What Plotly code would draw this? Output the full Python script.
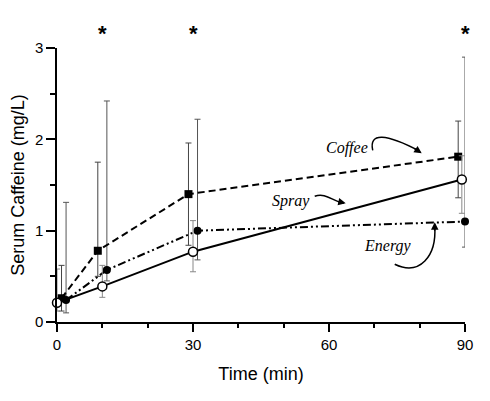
import plotly.graph_objects as go

# ==== Data ====
coffee_t = [1, 9, 29, 88.5]
coffee_mean = [0.26, 0.78, 1.40, 1.81]
coffee_hi = [0.62, 1.75, 1.96, 2.20]
coffee_lo = [0.12, 0.50, 0.84, 1.36]

spray_t = [0, 10, 30, 89.3]
spray_mean = [0.21, 0.39, 0.77, 1.56]
spray_hi = [0.58, 0.62, 1.11, 1.82]
spray_lo = [0.12, 0.27, 0.55, 1.19]

energy_t = [2, 11, 31, 90]
energy_mean = [0.24, 0.57, 1.00, 1.10]
energy_hi = [1.31, 2.42, 2.22, 2.90]
energy_lo = [0.10, 0.45, 0.68, 0.82]

star_times = [10, 30, 90]


# pixel -> data helpers for the hand-drawn arrows (reference image pixels)
def px_x(p):
    return (p - 57.3) / 4.533


def px_y(p):
    return (321.7 - p) / 91.33


def err(mean, hi, lo, color):
    return dict(type="data", symmetric=False,
                array=[h - m for h, m in zip(hi, mean)],
                arrayminus=[m - l for m, l in zip(mean, lo)],
                color=color, thickness=1, width=3)


fig = go.Figure()

fig.add_trace(go.Scatter(
    x=energy_t, y=energy_mean, name="Energy", mode="lines+markers",
    line=dict(color="black", width=2, dash="8px,3px,2px,3px,2px,3px"),
    marker=dict(symbol="circle", size=8, color="black"),
    error_y=err(energy_mean, energy_hi, energy_lo, "#555555"),
    cliponaxis=False))

fig.add_trace(go.Scatter(
    x=coffee_t, y=coffee_mean, name="Coffee", mode="lines+markers",
    line=dict(color="black", width=2, dash="7px,4px"),
    marker=dict(symbol="square", size=8, color="black"),
    error_y=err(coffee_mean, coffee_hi, coffee_lo, "#444444"),
    cliponaxis=False))

fig.add_trace(go.Scatter(
    x=spray_t, y=spray_mean, name="Spray", mode="lines+markers",
    line=dict(color="black", width=2),
    marker=dict(symbol="circle", size=9, color="white",
                line=dict(color="black", width=1.5)),
    error_y=err(spray_mean, spray_hi, spray_lo, "#888888"),
    cliponaxis=False))

# significance stars
for t in star_times:
    fig.add_annotation(x=t, y=1.105, xref="x", yref="paper", text="<b>*</b>",
                       showarrow=False, font=dict(size=22, color="black"))

# hand-written labels
label_font = dict(family="Liberation Serif", size=16, color="black")
fig.add_annotation(x=px_x(347), y=px_y(148), text="<i>Coffee</i>",
                   showarrow=False, font=label_font)
fig.add_annotation(x=px_x(291), y=px_y(201), text="<i>Spray</i>",
                   showarrow=False, font=label_font)
fig.add_annotation(x=px_x(388), y=px_y(246), text="<i>Energy</i>",
                   showarrow=False, font=label_font)

# curved arrows
curves = [
    [(373, 150), (369, 132), (386, 133), (420, 151)],
    [(315, 196), (326, 192), (333, 201), (344, 203)],
    [(395, 264), (420, 276), (437, 256), (435, 226)],
]
for c in curves:
    pts = [(px_x(a), px_y(b)) for a, b in c]
    path = "M {},{} C {},{} {},{} {},{}".format(*[v for p in pts for v in p])
    fig.add_shape(type="path", path=path, xref="x", yref="y",
                  line=dict(color="black", width=1.5))

heads = [((422, 153), (-9, -6)), ((346, 203), (-9, -2)), ((435, 222), (0, 10))]
for (hx, hy), (dx, dy) in heads:
    fig.add_annotation(x=px_x(hx), y=px_y(hy), xref="x", yref="y", text="",
                       showarrow=True, arrowhead=2, arrowsize=1, arrowwidth=1.5,
                       ax=dx, ay=dy, arrowcolor="black")

# page body has an 8px margin, so the figure is shrunk by that amount
fig.update_layout(
    width=482, height=393,
    margin=dict(l=49, r=25, t=40, b=79, autoexpand=False),
    plot_bgcolor="white", paper_bgcolor="white",
    showlegend=False,
    font=dict(family="Liberation Sans, Arial", size=15, color="black"),
    xaxis=dict(range=[0, 90], tickvals=[0, 30, 60, 90], ticks="outside",
               ticklen=8, tickwidth=1.5, tickcolor="black",
               minor=dict(tickvals=[10, 20, 40, 50, 70, 80], ticks="outside",
                          ticklen=4, tickcolor="black"),
               showline=True, linecolor="black", linewidth=1.5,
               showgrid=False, zeroline=False, automargin=False,
               title=dict(text="Time (min)", standoff=16)),
    yaxis=dict(range=[0, 3], tickvals=[0, 1, 2, 3], ticks="outside",
               ticklen=9, tickwidth=1.5, tickcolor="black",
               minor=dict(tickvals=[0.5, 1.5, 2.5], ticks="outside",
                          ticklen=5, tickcolor="black"),
               showline=True, linecolor="black", linewidth=1.5,
               showgrid=False, zeroline=False, automargin=False,
               title=dict(text="Serum Caffeine (mg/L)", standoff=8)),
)

fig.write_html("out.html")
